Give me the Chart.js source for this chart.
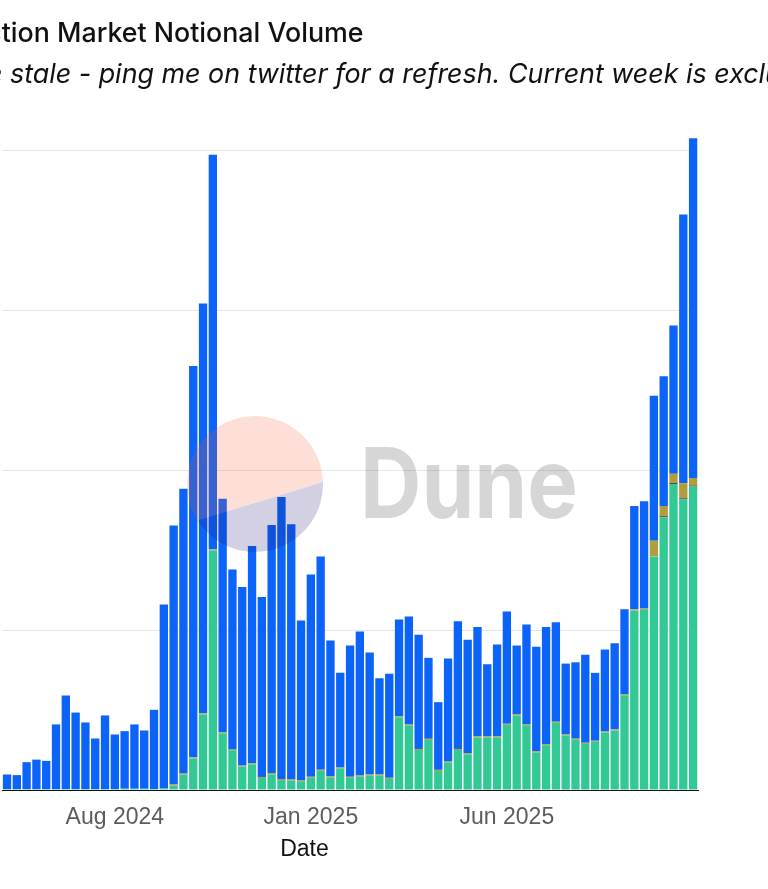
<!DOCTYPE html>
<html>
<head>
<meta charset="utf-8">
<script src="https://cdn.jsdelivr.net/npm/chart.js@4.4.1/dist/chart.umd.min.js"></script>
<style>
html,body{margin:0;padding:0;background:#fff;width:768px;height:889px;overflow:hidden;}
#wrap{position:absolute;left:-7px;top:100px;width:775px;height:789px;}
#ov{position:absolute;left:0;top:0;width:768px;height:889px;pointer-events:none;}
</style>
</head>
<body>
<div id="wrap"><canvas id="c"></canvas></div>
<svg id="ov" width="768" height="889" xmlns="http://www.w3.org/2000/svg">
  <g opacity="0.2">
    <path d="M197.6 520.4 L323 482 A68 68 0 1 0 197.6 520.4 Z" fill="#f4603e"/>
    <path d="M197.6 520.4 L323 482 A68 68 0 0 1 197.6 520.4 Z" fill="#1e1870"/>
  </g>
  <text id="dune" x="360" y="518" font-family="Inter, Lato, sans-serif" font-weight="700" font-size="98" fill="#000" fill-opacity="0.16" textLength="218" lengthAdjust="spacingAndGlyphs">Dune</text>
  <text id="title" x="0" y="42.3" font-family="Inter, sans-serif" font-weight="500" font-size="26" fill="#111">Prediction Market Notional Volume</text>
  <text id="sub" x="0" y="82.7" font-family="Inter, sans-serif" font-style="italic" font-size="26" fill="#111">Data may be stale - ping me on twitter for a refresh. Current week is excluded.</text>
  <text id="xtitle" x="304.5" y="856" text-anchor="middle" font-family="Liberation Sans, Arial, sans-serif" font-size="23" fill="#111">Date</text>
</svg>
<script>
// ---- data ----
const weeks = [
 '2024-06-10','2024-06-17','2024-06-24','2024-07-01','2024-07-08','2024-07-15','2024-07-22','2024-07-29',
 '2024-08-05','2024-08-12','2024-08-19','2024-08-26','2024-09-02','2024-09-09','2024-09-16','2024-09-23',
 '2024-09-30','2024-10-07','2024-10-14','2024-10-21','2024-10-28','2024-11-04','2024-11-11','2024-11-18',
 '2024-11-25','2024-12-02','2024-12-09','2024-12-16','2024-12-23','2024-12-30','2025-01-06','2025-01-13',
 '2025-01-20','2025-01-27','2025-02-03','2025-02-10','2025-02-17','2025-02-24','2025-03-03','2025-03-10',
 '2025-03-17','2025-03-24','2025-03-31','2025-04-07','2025-04-14','2025-04-21','2025-04-28','2025-05-05',
 '2025-05-12','2025-05-19','2025-05-26','2025-06-02','2025-06-09','2025-06-16','2025-06-23','2025-06-30',
 '2025-07-07','2025-07-14','2025-07-21','2025-07-28','2025-08-04','2025-08-11','2025-08-18','2025-08-25',
 '2025-09-01','2025-09-08','2025-09-15','2025-09-22','2025-09-29','2025-10-06','2025-10-13'
];
const blueVals = [
 9.1, 8.7, 16.8, 18.4, 17.6, 40.4, 58.4, 47.8, 41.6, 31.6, 46.0, 34.1, 36.0, 40.2, 36.4, 49.5,
 115.0, 161.9, 178.0, 244.6, 256.1, 246.6, 145.9, 112.2, 111.6, 135.8, 112.4, 155.1, 176.2, 159.5, 99.7, 126.4,
 133.2, 84.8, 59.3, 82.0, 90.1, 76.2, 60.2, 65.0, 60.5, 67.5, 71.3, 50.6, 42.3, 64.4, 79.8, 70.9,
 68.2, 45.0, 57.3, 70.2, 43.1, 62.3, 65.4, 73.1, 62.2, 44.2, 47.7, 55.1, 42.4, 51.2, 53.8, 53.0,
 64.6, 67.0, 90.6, 81.1, 92.7, 167.9, 212.4
];
const greenVals = [
 0.6, 0.6, 0.6, 0.6, 0.6, 0.6, 0.6, 0.6, 0.6, 0.6, 0.6, 0.6, 0.8, 0.8, 0.8, 0.6,
 1.0, 2.7, 9.6, 19.7, 47.2, 149.7, 35.4, 24.9, 14.6, 16.0, 7.5, 9.8, 6.2, 5.9, 5.5, 7.6,
 12.0, 7.9, 13.3, 7.6, 8.3, 9.0, 9.0, 6.9, 45.4, 40.2, 25.0, 31.3, 11.9, 17.1, 25.0, 22.3,
 32.9, 32.9, 32.9, 40.7, 46.5, 40.5, 23.5, 28.0, 42.0, 34.1, 31.4, 28.8, 30.1, 35.9, 37.2, 59.2,
 112.1, 112.6, 146.0, 170.5, 191.2, 181.7, 189.7
];
const oliveVals = [
 0, 0, 0, 0, 0, 0, 0, 0, 0, 0, 0, 0, 0, 0, 0, 0,
 0, 0.7, 0.7, 0.7, 0.7, 0.7, 0.7, 0.7, 0.7, 0.7, 0.7, 0.7, 0.7, 0.7, 0.7, 0.7,
 0.7, 0.7, 0.7, 0.7, 0.7, 0.7, 0.7, 0.7, 0.7, 0.7, 0.7, 0.7, 0.7, 0.7, 0.7, 0.7,
 0.7, 0.7, 0.7, 0.7, 0.7, 0.7, 0.7, 0.7, 0.7, 0.7, 0.7, 0.7, 0.7, 0.7, 0.7, 0.7,
 0.8, 0.8, 9.8, 6.4, 5.8, 9.5, 4.7
];
const darkVals = [
 0, 0, 0, 0, 0, 0, 0, 0, 0, 0, 0, 0, 0, 0, 0, 0,
 0, 0, 0, 0, 0, 0, 0, 0, 0, 0, 0, 0, 0, 0, 0, 0,
 0, 0, 0, 0, 0, 0, 0, 0, 0, 0, 0, 0, 0, 0, 0, 0,
 0, 0, 0, 0, 0, 0, 0, 0, 0, 0, 0, 0, 0, 0, 0, 0,
 0, 0, 0, 0.6, 0.6, 0.6, 0.6
];
const yTicks = [0, 100, 200, 300, 400];
const xTickWeeks = ['2024-08-26', '2025-01-13', '2025-06-02'];
const xTickText = ['Aug 2024', 'Jan 2025', 'Jun 2025'];

// ---- text fitting of cropped title/subtitle ----
function place(el, i0, i1, target, startX){
  const s0 = parseFloat(el.getAttribute('font-size'));
  const w = el.getSubStringLength(i0, i1 - i0);
  el.setAttribute('font-size', (s0 * target / w).toFixed(2));
  const pre = i0 > 0 ? el.getSubStringLength(0, i0) : 0;
  el.setAttribute('x', (startX - pre).toFixed(2));
}
const tEl = document.getElementById('title');
const tStr = tEl.textContent;
place(tEl, tStr.indexOf('tion'), tStr.length, 362, 1.7);
const sEl = document.getElementById('sub');
const sStr = sEl.textContent;
place(sEl, sStr.indexOf('stale'), sStr.indexOf('uded'), 755, 10);

// ---- chart ----
new Chart(document.getElementById('c'), {
  type: 'bar',
  data: {
    labels: weeks,
    datasets: [
      { label: 'Platform B', data: greenVals, backgroundColor: '#33c995', stack: 's' },
      { label: 'Platform D', data: darkVals, backgroundColor: '#3a3a3a', stack: 's' },
      { label: 'Platform C', data: oliveVals, backgroundColor: '#b29d3e', stack: 's' },
      { label: 'Platform A', data: blueVals, backgroundColor: '#0b63f7', stack: 's' }
    ]
  },
  options: {
    responsive: true,
    maintainAspectRatio: false,
    animation: false,
    layout: { padding: { left: 1, right: 70, top: 18, bottom: 0 } },
    datasets: { bar: { barPercentage: 0.85, categoryPercentage: 1.0, borderWidth: 0 } },
    plugins: { legend: { display: false }, tooltip: { enabled: false }, title: { display: false } },
    scales: {
      x: {
        stacked: true,
        grid: { display: false, drawTicks: false },
        border: { display: true, color: '#111', width: 1 },
        ticks: {
          autoSkip: false, maxRotation: 0, minRotation: 0, padding: 14,
          color: '#5c5c5c', font: { family: 'Liberation Sans, Arial, sans-serif', size: 23 },
          callback: function(v, i){ const k = xTickWeeks.indexOf(weeks[i]); return k >= 0 ? xTickText[k] : ''; }
        },
        afterFit: function(s){ s.height = 99; }
      },
      y: {
        stacked: true, min: 0, max: 420,
        grid: { color: '#e6e6e6', lineWidth: 1, drawTicks: false },
        border: { display: false },
        ticks: { display: false },
        afterBuildTicks: function(s){ s.ticks = yTicks.map(v => ({ value: v })); },
        afterFit: function(s){ s.width = 0; }
      }
    }
  }
});
</script>
</body>
</html>
